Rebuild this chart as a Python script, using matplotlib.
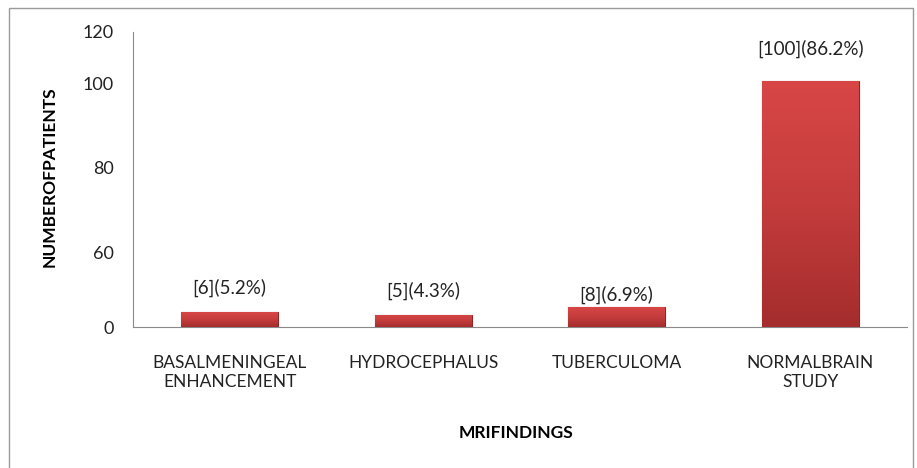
import numpy as np
import matplotlib
matplotlib.use("Agg")
import matplotlib.pyplot as plt
from matplotlib.patches import Rectangle
from matplotlib.colors import LinearSegmentedColormap

categories = ["BASALMENINGEAL\nENHANCEMENT", "HYDROCEPHALUS", "TUBERCULOMA", "NORMALBRAIN\nSTUDY"]
patients = [6, 5, 8, 100]
percents = [5.2, 4.3, 6.9, 86.2]

# tick labels as printed on the original axis (positions follow the picture)
ytick_labels = ["0", "60", "80", "100", "120"]
ytick_pos = [0, 30.5, 65, 99, 120]

plt.rcParams['font.family'] = ['Lato', 'DejaVu Sans']

fig = plt.figure(figsize=(9.17, 4.68), dpi=100)
ax = fig.add_axes([0.145, 0.301, 0.844, 0.631])

x = np.arange(len(categories))
bars = ax.bar(x, patients, width=0.5, color="#c03a3a", edgecolor="#8e2626", linewidth=0.8, zorder=2)

# vertical gradient on each bar
cmap = LinearSegmentedColormap.from_list("redgrad", ["#a52d2d", "#c43c3c", "#d84646"])
grad = np.linspace(0, 1, 100).reshape(-1, 1)
for b in bars:
    im = ax.imshow(grad, cmap=cmap, aspect="auto", origin="lower", zorder=3,
                   extent=[b.get_x(), b.get_x() + b.get_width(), 0, b.get_height()])
    im.set_clip_path(b)

offsets = [25, 24, 13, 32]
for b, n, p, off in zip(bars, patients, percents, offsets):
    ax.annotate(f"[{n}]({p}%)", (b.get_x() + b.get_width() / 2, b.get_height()),
                xytext=(0, off * 0.72), textcoords="offset points",
                ha="center", va="center", fontsize=13.5, color="#222222")

ax.set_xlim(-0.5, len(categories) - 0.5)
ax.set_ylim(0, 120)
ax.set_yticks(ytick_pos)
ax.set_yticklabels(ytick_labels, fontsize=13, color="#222222")
ax.set_xticks(x)
ax.set_xticklabels(categories, fontsize=12.5, color="#222222", linespacing=1.2, va="top")
ax.tick_params(axis="y", length=0, pad=14)
ax.tick_params(axis="x", length=0, pad=20)

for s in ["top", "right"]:
    ax.spines[s].set_visible(False)
ax.spines["left"].set_color("#8a8a8a")
ax.spines["bottom"].set_color("#8a8a8a")

ax.set_ylabel("NUMBEROFPATIENTS", fontsize=12.5, fontweight="bold")
ax.yaxis.set_label_coords(-0.097, 0.51)
ax.set_xlabel("MRIFINDINGS", fontsize=12.5, fontweight="bold")
ax.xaxis.set_label_coords(0.495, -0.33)

fig.patches.append(Rectangle((9 / 917, -0.05), 904 / 917, 1.05 - 8 / 468,
                             transform=fig.transFigure, fill=False,
                             edgecolor="#9a9a9a", linewidth=1))

fig.savefig("out.png", dpi=100)
